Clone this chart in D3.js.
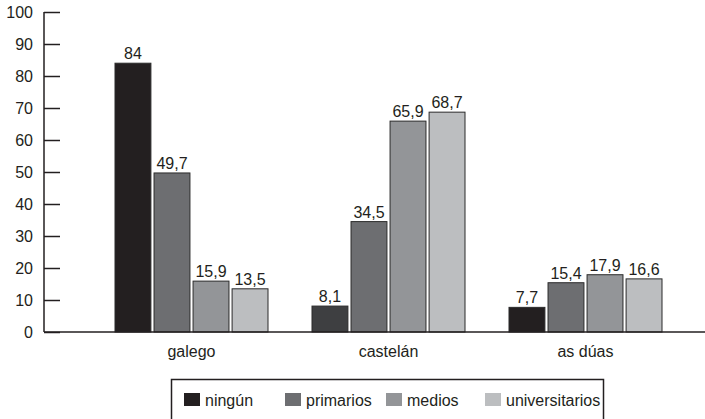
<!DOCTYPE html>
<html>
<head>
<meta charset="utf-8">
<script src="https://cdn.jsdelivr.net/npm/d3@7"></script>
<style>
  html, body { margin: 0; padding: 0; background: #fff; }
  svg { display: block; font-family: "Liberation Sans", Arial, sans-serif; }
</style>
</head>
<body>
<svg id="chart" width="705" height="419"></svg>
<script>
// Language use by level of education (%)
const categories = ["galego", "castelán", "as dúas"];
const seriesNames = ["ningún", "primarios", "medios", "universitarios"];
const ningun = [84, 8.1, 7.7];
const primarios = [49.7, 34.5, 15.4];
const medios = [15.9, 65.9, 17.9];
const universitarios = [13.5, 68.7, 16.6];
const yTicks = [0, 10, 20, 30, 40, 50, 60, 70, 80, 90, 100];
const colors = ["#231f20", "#6d6e71", "#939598", "#bcbec0"];
// The "ningún" bar in "castelán" is printed in a lighter black
const fillOverrides = { "castelán|ningún": "#3e3f41" };

const seriesValues = [ningun, primarios, medios, universitarios];
const fmt = v => String(v).replace(".", ",");

const svg = d3.select("#chart");
const axisX = 44;

const y = d3.scaleLinear().domain([0, 100]).range([332, 12]);
const x0 = d3.scaleBand().domain(categories).range([93, 684]);
const x1 = d3.scaleBand().domain(seriesNames)
  .range([22, x0.bandwidth() - 22]).paddingInner(0.08);

// Value axis
const yAxis = d3.axisRight(y).tickValues(yTicks).tickSize(16).tickFormat("");
const ya = svg.append("g").attr("transform", `translate(${axisX},0)`).call(yAxis);
ya.select(".domain").remove();
ya.selectAll(".tick line").attr("stroke", "#231f20").attr("stroke-width", 1.5);
svg.append("line")
  .attr("x1", axisX).attr("x2", axisX)
  .attr("y1", y(100)).attr("y2", y(0))
  .attr("stroke", "#231f20").attr("stroke-width", 1.5);

svg.append("g").selectAll("text").data(yTicks).join("text")
  .attr("x", 33).attr("y", d => y(d))
  .attr("dy", "0.36em")
  .attr("text-anchor", "end")
  .attr("font-size", 16).attr("fill", "#231f20")
  .text(d => d);

// Bars
const groups = svg.append("g").selectAll("g").data(categories).join("g")
  .attr("transform", d => `translate(${x0(d)},0)`);

groups.each(function(cat, ci) {
  const g = d3.select(this);
  const vals = seriesNames.map((s, si) => ({ s, si, v: seriesValues[si][ci] }));
  g.selectAll("rect").data(vals).join("rect")
    .attr("x", d => x1(d.s))
    .attr("y", d => y(d.v))
    .attr("width", x1.bandwidth())
    .attr("height", d => y(0) - y(d.v))
    .attr("fill", d => fillOverrides[cat + "|" + d.s] || colors[d.si])
    .attr("stroke", "#2b2b2b").attr("stroke-width", 1);
  g.selectAll("text.val").data(vals).join("text")
    .attr("class", "val")
    .attr("x", d => x1(d.s) + x1.bandwidth() / 2)
    .attr("y", d => y(d.v) - 4)
    .attr("text-anchor", "middle")
    .attr("font-size", 16).attr("fill", "#231f20")
    .text(d => fmt(d.v));
});

// Baseline
svg.append("line")
  .attr("x1", axisX).attr("x2", 705)
  .attr("y1", y(0)).attr("y2", y(0))
  .attr("stroke", "#231f20").attr("stroke-width", 1.5);

// Category labels
svg.append("g").selectAll("text").data(categories).join("text")
  .attr("x", d => x0(d) + x0.bandwidth() / 2)
  .attr("y", 357)
  .attr("text-anchor", "middle")
  .attr("font-size", 16).attr("fill", "#231f20")
  .text(d => d);

// Legend
const legend = svg.append("g");
legend.append("rect")
  .attr("x", 171.5).attr("y", 379.5).attr("width", 432).attr("height", 60)
  .attr("fill", "none").attr("stroke", "#231f20").attr("stroke-width", 1.5);
const legendX = [184, 285, 386, 485];
const items = legend.selectAll("g").data(seriesNames).join("g")
  .attr("transform", (d, i) => `translate(${legendX[i]},393)`);
items.append("rect")
  .attr("width", 16).attr("height", 13)
  .attr("fill", (d, i) => colors[i]);
items.append("text")
  .attr("x", 21).attr("y", 12.5)
  .attr("font-size", 16).attr("fill", "#231f20")
  .text(d => d);
</script>
</body>
</html>
